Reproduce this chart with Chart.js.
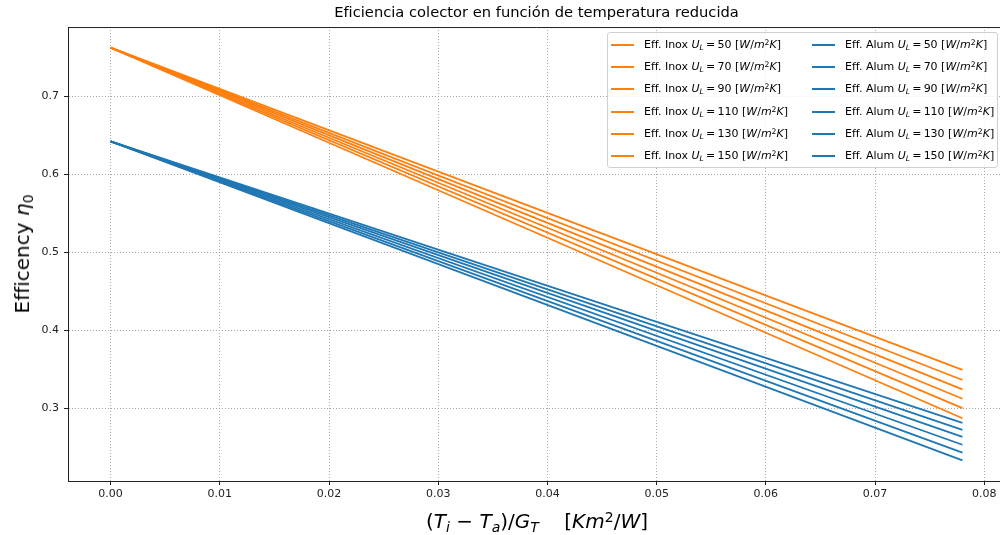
<!DOCTYPE html>
<html lang="es">
<head>
    <meta charset="UTF-8">
    <title>Eficiencia colector</title>
    <script src="https://cdn.jsdelivr.net/npm/chart.js"></script>
    <style>
        body {
            margin: 0;
            background: #fff;
            font-family: 'DejaVu Sans', sans-serif;
            color: #000;
        }
        .wrap {
            position: relative;
            width: 1000px;
            height: 535px;
            overflow: hidden;
        }
        #chart {
            position: absolute;
            left: 0;
            top: 0;
        }
        sub, sup {
            font-size: 70%;
            line-height: 0;
        }
        sub { vertical-align: -0.25em; }
        sup { vertical-align: 0.45em; }
        .ylabel {
            position: absolute;
            left: 22px;
            top: 254px;
            transform: translate(-50%, -50%) rotate(-90deg);
            font-size: 20px;
            white-space: nowrap;
        }
        .xlabel {
            position: absolute;
            left: 537px;
            top: 521px;
            transform: translate(-50%, -50%);
            font-size: 20px;
            white-space: nowrap;
        }
        .legend {
            position: absolute;
            left: 607px;
            top: 32px;
            width: 391px;
            height: 136px;
            box-sizing: border-box;
            border: 1px solid #d0d0d0;
            border-radius: 3px;
            background: rgba(255, 255, 255, 0.8);
            font-size: 11px;
        }
        .legend .item {
            position: absolute;
            white-space: nowrap;
            height: 14px;
            line-height: 14px;
        }
        .legend .swatch {
            position: absolute;
            left: 0;
            top: 6px;
            width: 23px;
            height: 2px;
        }
        .legend .text {
            position: absolute;
            left: 33px;
            top: 0;
        }
    </style>
</head>
<body>
<div class="wrap">
    <canvas id="chart" width="1005" height="535"></canvas>
    <div class="ylabel">Efficency <i>η</i><sub>0</sub></div>
    <div class="xlabel">(<i>T</i><sub><i>i</i></sub> − <i>T</i><sub><i>a</i></sub>)/<i>G</i><sub><i>T</i></sub>&nbsp;&nbsp;&nbsp; [<i>Km</i><sup>2</sup>/<i>W</i>]</div>
    <div class="legend" id="legend"></div>
</div>

<script>
    // reduced temperature (Ti - Ta)/GT at both ends of each line
    const xRed = [0, 0.078];

    // overall loss coefficients U_L [W/m2K]
    const ulValues = [50, 70, 90, 110, 130, 150];

    // efficiency at start and end of the range, one pair per U_L
    const inoxEff = [
        [0.762, 0.349],
        [0.762, 0.336],
        [0.762, 0.324],
        [0.762, 0.312],
        [0.762, 0.300],
        [0.762, 0.287]
    ];
    const alumEff = [
        [0.642, 0.281],
        [0.642, 0.272],
        [0.642, 0.263],
        [0.642, 0.253],
        [0.642, 0.243],
        [0.642, 0.233]
    ];

    const xTicks = [0, 0.01, 0.02, 0.03, 0.04, 0.05, 0.06, 0.07, 0.08];
    const yTicks = [0.3, 0.4, 0.5, 0.6, 0.7];

    const ORANGE = '#ff7f0e';
    const BLUE = '#1f77b4';

    function makeSet(material, color, ys, ul) {
        return {
            label: 'Eff. ' + material + ' U_L=' + ul + ' [W/m^2K]',
            material: material,
            ul: ul,
            data: xRed.map((x, i) => ({ x: x, y: ys[i] })),
            borderColor: color,
            backgroundColor: color,
            borderWidth: 1.8,
            pointRadius: 0,
            tension: 0,
            fill: false
        };
    }

    const datasets = [];
    ulValues.forEach((ul, i) => datasets.push(makeSet('Inox', ORANGE, inoxEff[i], ul)));
    ulValues.forEach((ul, i) => datasets.push(makeSet('Alum', BLUE, alumEff[i], ul)));

    // top spine of the axes box
    const frame = {
        id: 'frame',
        afterDraw(chart) {
            const { ctx, chartArea } = chart;
            ctx.save();
            ctx.strokeStyle = '#222';
            ctx.lineWidth = 1;
            ctx.beginPath();
            ctx.moveTo(chartArea.left, chartArea.top + 0.5);
            ctx.lineTo(chartArea.right, chartArea.top + 0.5);
            ctx.stroke();
            ctx.restore();
        }
    };

    const tickFont = { family: 'DejaVu Sans', size: 11 };

    const chart = new Chart(document.getElementById('chart'), {
        type: 'line',
        data: { datasets: datasets },
        plugins: [frame],
        options: {
            responsive: false,
            animation: false,
            layout: { padding: 0 },
            plugins: {
                legend: { display: false },
                tooltip: { enabled: false },
                title: {
                    display: true,
                    fullSize: false,
                    text: 'Eficiencia colector en función de temperatura reducida',
                    color: '#000',
                    font: { family: 'DejaVu Sans', size: 14.7, weight: 'normal', lineHeight: 1.2 },
                    padding: { top: 4.5, bottom: 4.9 }
                }
            },
            scales: {
                x: {
                    type: 'linear',
                    min: -0.0039,
                    max: 0.0819,
                    afterBuildTicks: axis => { axis.ticks = xTicks.map(v => ({ value: v })); },
                    afterFit: axis => { axis.height = 54; },
                    ticks: {
                        autoSkip: false,
                        maxRotation: 0,
                        padding: 3,
                        color: '#222',
                        font: tickFont,
                        callback: v => v.toFixed(2)
                    },
                    grid: {
                        color: '#a8a8a8',
                        lineWidth: 1,
                        drawTicks: true,
                        tickLength: 4,
                        tickColor: '#222',
                        tickWidth: 1,
                        tickBorderDash: []
                    },
                    border: { color: '#222', width: 1, dash: [1, 2] }
                },
                y: {
                    type: 'linear',
                    min: 0.2065,
                    max: 0.7885,
                    afterBuildTicks: axis => { axis.ticks = yTicks.map(v => ({ value: v })); },
                    afterFit: axis => { axis.width = 68; },
                    ticks: {
                        padding: 5,
                        color: '#222',
                        font: tickFont,
                        callback: v => v.toFixed(1)
                    },
                    grid: {
                        color: '#a8a8a8',
                        lineWidth: 1,
                        drawTicks: true,
                        tickLength: 4,
                        tickColor: '#222',
                        tickWidth: 1,
                        tickBorderDash: []
                    },
                    border: { color: '#222', width: 1, dash: [1, 2] }
                }
            }
        }
    });

    // two-column legend: Inox in the left column, Alum in the right
    const legendEl = document.getElementById('legend');
    chart.data.datasets.forEach(ds => {
        const col = ds.material === 'Inox' ? 0 : 1;
        const row = ulValues.indexOf(ds.ul);
        const item = document.createElement('div');
        item.className = 'item';
        item.style.left = (col === 0 ? 3 : 204) + 'px';
        item.style.top = (5 + row * 22.2) + 'px';
        item.innerHTML =
            '<span class="swatch" style="background:' + ds.borderColor + '"></span>' +
            '<span class="text">Eff. ' + ds.material + ' <i>U</i><sub><i>L</i></sub>\u2009=\u2009' + ds.ul +
            ' [<i>W</i>/<i>m</i><sup>2</sup><i>K</i>]</span>';
        legendEl.appendChild(item);
    });
</script>
</body>
</html>
